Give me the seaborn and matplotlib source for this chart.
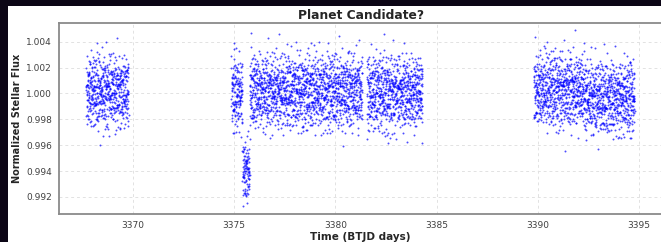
import numpy as np
import pandas as pd
import seaborn as sns
import matplotlib.pyplot as plt
from matplotlib.patches import Rectangle

# observing segments (BTJD days), flux level and scatter size
seg_start = [3367.68, 3374.85, 3375.40, 3375.76, 3381.55, 3389.80, 3392.30]
seg_end = [3369.78, 3375.40, 3375.76, 3381.32, 3384.30, 3392.30, 3394.78]
seg_level = [1.0001, 0.9999, 0.9940, 1.0001, 1.0000, 1.0002, 0.9996]
seg_scatter = [1.25, 1.25, 1.0, 1.25, 1.25, 1.25, 1.25]
cadence = 0.0038

# scatter around the level, in units of 1e-5
resid_a = [
    12, -87, 143, -35, 66, -158, 4, 97, -121, 38, -62, 181, -14, 73, -109, 25, -196, 58, 131, -47,
    -8, 89, -140, 21, 164, -73, 45, -29, 112, -181, 7, 69, -95, 152, -3, -57, 236, -118, 33, 81,
    -66, 17, -212, 104, -39, 55, 126, -84, -11, 190, -133, 42, -70, 9, 147, -101, 63, -25, -168, 85,
    29, -52, 118, -147, 76, -18, 211, -92, 36, -6, -124, 159, 50, -79, 94, -41, 2, 173, -155, 61,
    -33, 108, -64, 14, -187, 137, -98, 47, 83, -20, 255, -113, 19, -46, 71, -136, 116, -4, -78, 40,
    99, -163, 31, -57, 145, -15, -104, 67, 202, -88, 11, -141, 53, 120, -69, -27, 88, -229, 5, 134,
    -49, 74, -117, 24, -10, 169, -83, 57, -176, 91, 16, -61, 127, -37, 46, -150, 102, -1, 296, -95,
    64, -23, -129, 81, 37, -71, 185, -12, -108, 52, -161, 111, 26, -44, 7, -204, 139, 77, -90, 18,
    -58, 123, -31, 92, -144, 43, 10, -82, 166, -116, 59, -19, 214, -67, 34, -99, 79, -172, 3, 114,
    -40, 61, -246, 128, -9, 86, -125, 22, 151, -54, -35, 97, -183, 68, -14, 41, 177, -102, 28, -76,
    107, -138, 15, -63, 84, 48, -93, 195, -21, -153, 72, 1, -112, 39, 141, -48, -208, 93, 56, -30,
    -85, 132, -2, 60, -166, 27, 103, -74, -42, 158, -119, 35, 8, -97, 221, -60, 49, -134, 87, -16,
    44, -189, 75, -28, 119, -107, 13, 65, -51, 178, -86, 20, -152, 96, -7, 54, -123, 266, -65, 31,
]
resid_b = [
    23, -61, 8, 47, -35, 70, -14, -52, 31, 5, -78, 40, 16, -27, 58, -43, 2, 66, -20, -69,
    37, 11, -5, 49, -88, 27, -38, 74, -9, 18, -56, 34, 61, -31, -17, 82, -46, 14, -64, 29,
    3, -24, 45,
]

# a few isolated points that stand out
out_time = [3375.85, 3374.98, 3391.35, 3382.60]
out_flux = [1.0047, 1.0039, 0.99555, 0.99614]

rows = []
k = 0
for s, e, lv, sc in zip(seg_start, seg_end, seg_level, seg_scatter):
    for t in np.arange(s, e, cadence):
        f = lv + sc * (resid_a[k % len(resid_a)] + resid_b[k % len(resid_b)]) * 1e-5
        rows.append((t, f))
        k += 1
rows += list(zip(out_time, out_flux))
df = pd.DataFrame(rows, columns=['time', 'flux'])

sns.set_style('white')
fig = plt.figure(figsize=(6.61, 2.42), dpi=100, facecolor='#0c0616')
fig.patches.append(Rectangle((8 / 661, 0), 1, 236 / 242, transform=fig.transFigure,
                             facecolor='white', edgecolor='none', zorder=-10))
ax = fig.add_axes([59 / 661, 27.7 / 242, 603.3 / 661, 191 / 242])
ax.set_facecolor('white')

sns.scatterplot(data=df, x='time', y='flux', ax=ax, s=2.0, color='blue',
                linewidth=0, alpha=0.7)

ax.set_xlim(3366.34, 3396.15)
ax.set_ylim(0.99066, 1.00542)
ax.set_xticks([3370, 3375, 3380, 3385, 3390, 3395])
ax.set_yticks([0.992, 0.994, 0.996, 0.998, 1.000, 1.002, 1.004])
ax.set_yticklabels(['0.992', '0.994', '0.996', '0.998', '1.000', '1.002', '1.004'])
ax.grid(True, linestyle=(0, (3, 3)), color='#e2e2e2', linewidth=0.7)
ax.set_axisbelow(True)
for sp in ax.spines.values():
    sp.set_color('#8a8a8a')
    sp.set_linewidth(1.3)
ax.tick_params(axis='both', labelsize=6.5, colors='#8a8a8a', labelcolor='#404040',
               length=3, width=0.8, pad=2)

ax.set_title('Planet Candidate?', fontsize=8.8, fontweight='bold', pad=3)
ax.set_xlabel('Time (BTJD days)', fontsize=7.5, fontweight='bold', labelpad=1)
ax.set_ylabel('Normalized Stellar Flux', fontsize=7, fontweight='bold', labelpad=3)

fig.savefig('out.png', dpi=100, facecolor=fig.get_facecolor())
